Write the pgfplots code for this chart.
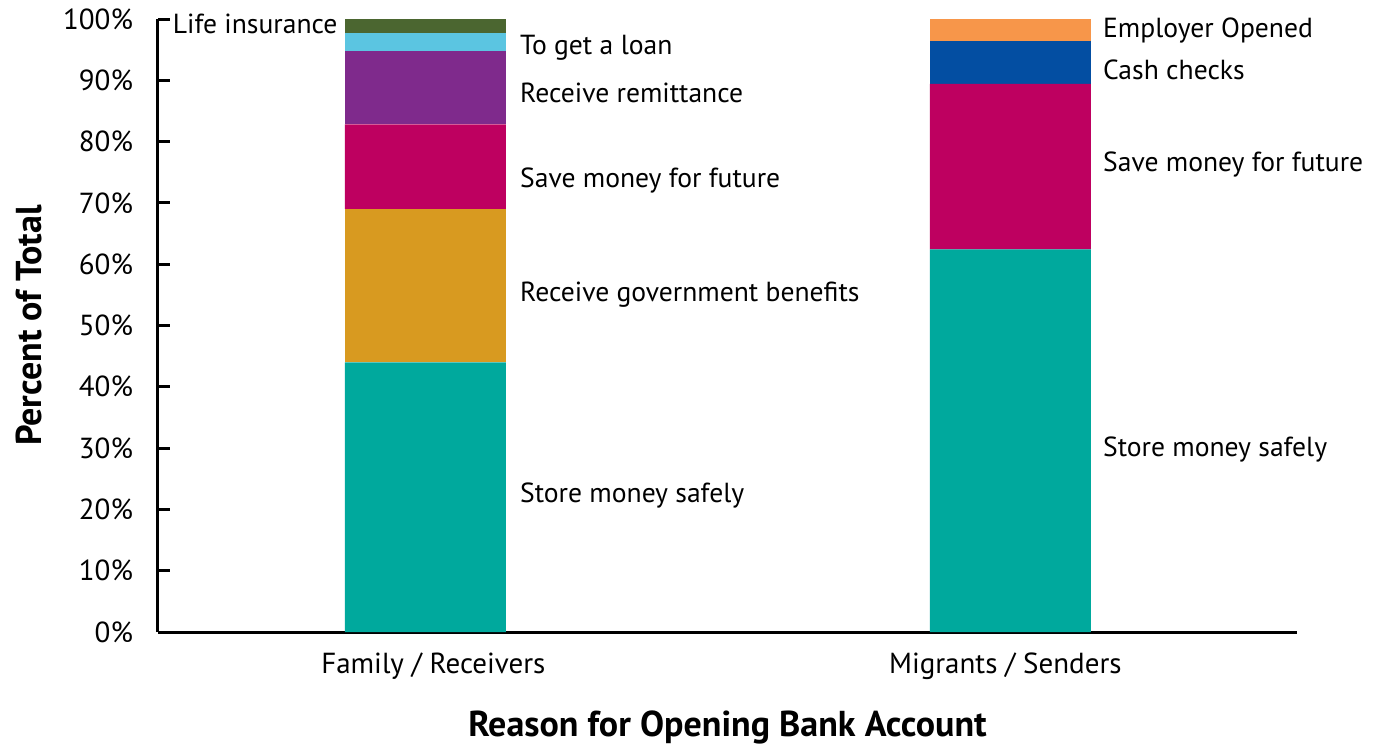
\documentclass[border=0pt]{standalone}
\usepackage{pgfplots}
\pgfplotsset{compat=1.18}
\usepackage{fontspec}
\setmainfont{PT Sans}
\definecolor{cteal}{RGB}{0,169,157}
\definecolor{cgold}{RGB}{216,154,32}
\definecolor{cred}{RGB}{190,0,96}
\definecolor{cpurple}{RGB}{127,42,140}
\definecolor{clblue}{RGB}{91,197,225}
\definecolor{cgreen}{RGB}{75,102,48}
\definecolor{cblue}{RGB}{3,78,162}
\definecolor{corange}{RGB}{247,150,74}
\tikzset{lbl/.style={font=\fontsize{13.8}{16}\selectfont, inner sep=0pt}}
\begin{document}
\begin{tikzpicture}
\begin{axis}[
  name=ax,
  scale only axis,
  width=569.5pt, height=306.5pt,
  ybar stacked,
  bar width=0.275,
  xmin=-0.457, xmax=1.49,
  ymin=0, ymax=100,
  axis x line*=bottom, axis y line*=left,
  axis line style={line width=1.5pt},
  ytick={0,10,...,100},
  yticklabels={0\%,10\%,20\%,30\%,40\%,50\%,60\%,70\%,80\%,90\%,100\%},
  tick align=inside,
  major tick length=6pt,
  ytick style={line width=1.5pt, black},
  xtick={0,1},
  xticklabels={\hspace*{8pt}Family / Receivers, Migrants / Senders\hspace*{5pt}},
  xtick style={draw=none},
  tick label style={font=\fontsize{14.5}{16}\selectfont},
  yticklabel style={xshift=-9pt},
  xticklabel style={yshift=-7pt},
  xlabel={\textbf{Reason for Opening Bank Account}},
  ylabel={\textbf{Percent of Total}},
  label style={font=\fontsize{18}{20}\selectfont},
  xlabel style={yshift=-8.5pt},
  ylabel style={yshift=3.5pt},
  clip=false,
]
\addplot[fill=cteal, draw=none] coordinates {(0,44) (1,62.4)};
\addplot[fill=cgold, draw=none] coordinates {(0,25) (1,0)};
\addplot[fill=cred, draw=none] coordinates {(0,13.8) (1,27.0)};
\addplot[fill=cpurple, draw=none] coordinates {(0,11.9) (1,0)};
\addplot[fill=clblue, draw=none] coordinates {(0,3.0) (1,0)};
\addplot[fill=cgreen, draw=none] coordinates {(0,2.3) (1,0)};
\addplot[fill=cblue, draw=none] coordinates {(0,0) (1,7.0)};
\addplot[fill=corange, draw=none] coordinates {(0,0) (1,3.6)};
\node[lbl, anchor=east] at (axis cs:-0.1495,99.2) {Life insurance};
\node[lbl, anchor=west] at (axis cs:0.1615,95.3) {To get a loan};
\node[lbl, anchor=west] at (axis cs:0.1615,87.9) {Receive remittance};
\node[lbl, anchor=west] at (axis cs:0.1615,73.7) {Save money for future};
\node[lbl, anchor=west] at (axis cs:0.1615,55.0) {Receive government benefits};
\node[lbl, anchor=west] at (axis cs:0.1615,22.2) {Store money safely};
\node[lbl, anchor=west] at (axis cs:1.158,98.2) {Employer Opened};
\node[lbl, anchor=west] at (axis cs:1.158,91.7) {Cash checks};
\node[lbl, anchor=west] at (axis cs:1.158,76.3) {Save money for future};
\node[lbl, anchor=west] at (axis cs:1.158,29.7) {Store money safely};
\end{axis}
\path[use as bounding box] ([shift={(-79pt,-56pt)}]ax.south west) rectangle ([shift={(608.5pt,316pt)}]ax.south west);
\end{tikzpicture}
\end{document}
